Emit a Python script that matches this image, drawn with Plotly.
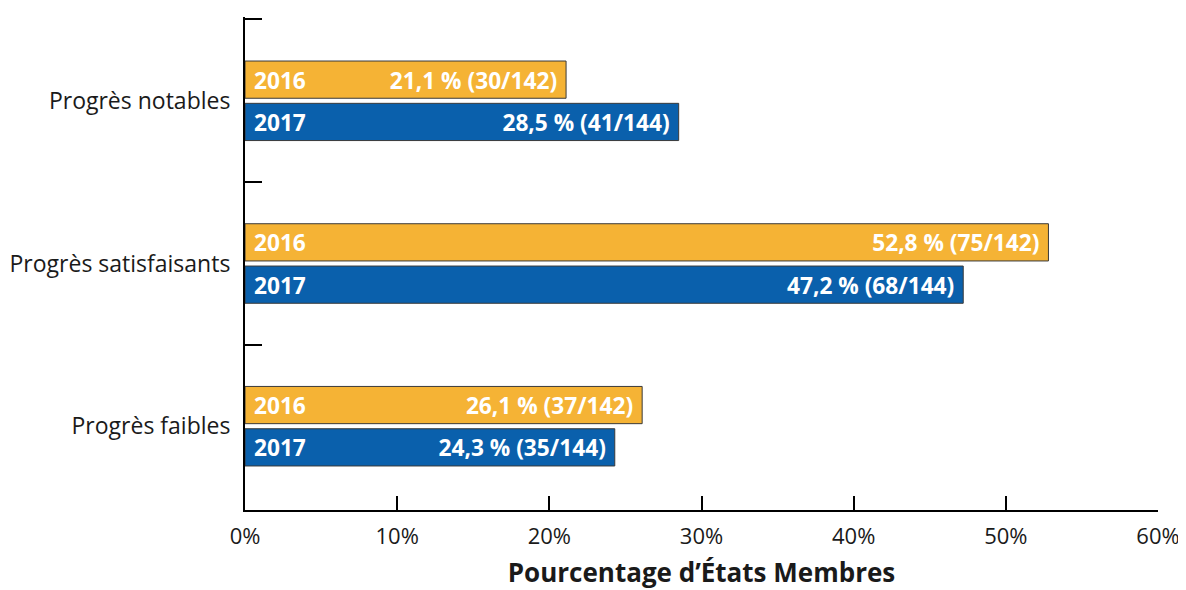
import plotly.graph_objects as go

categories = ["Progrès notables", "Progrès satisfaisants", "Progrès faibles"]
years = ["2016", "2017"]
values_2016 = [21.1, 52.8, 26.1]
values_2017 = [28.5, 47.2, 24.3]
labels_2016 = ["21,1 % (30/142)", "52,8 % (75/142)", "26,1 % (37/142)"]
labels_2017 = ["28,5 % (41/144)", "47,2 % (68/144)", "24,3 % (35/144)"]
x_ticks = [0, 10, 20, 30, 40, 50, 60]
x_tick_text = ["0%", "10%", "20%", "30%", "40%", "50%", "60%"]

colors = {"2016": "#F5B335", "2017": "#0A60AC"}
FONT = "Open Sans"
NBSP = "\u00a0"

fig = go.Figure()
series = [("2016", values_2016, labels_2016), ("2017", values_2017, labels_2017)]
for yr, vals, labs in series:
    fig.add_trace(go.Bar(
        y=categories, x=vals, orientation="h", name=yr,
        offsetgroup=yr,
        marker=dict(color=colors[yr], line=dict(color="#3a3a3a", width=1)),
        text=[l + NBSP for l in labs], textposition="inside", insidetextanchor="end",
        textangle=0,
        insidetextfont=dict(family=FONT, size=24, color="white", weight="bold"),
        hoverinfo="skip",
    ))
    fig.add_trace(go.Bar(
        y=categories, x=vals, orientation="h", name=yr + " label",
        offsetgroup=yr,
        marker=dict(color="rgba(0,0,0,0)", line=dict(width=0)),
        text=[NBSP + yr] * len(vals), textposition="inside", insidetextanchor="start",
        textangle=0,
        insidetextfont=dict(family=FONT, size=24, color="white", weight="bold"),
        hoverinfo="skip", showlegend=False,
    ))

fig.update_layout(
    width=1178, height=582,
    margin=dict(l=237, r=28, t=9, b=80, autoexpand=False),
    paper_bgcolor="white", plot_bgcolor="white",
    barmode="group", bargap=0.48, bargroupgap=0.12,
    showlegend=False,
    font=dict(family=FONT, color="#1a1a1a"),
    xaxis=dict(
        range=[0, 60], tickvals=x_ticks, ticktext=x_tick_text,
        showgrid=False, zeroline=False,
        showline=True, linecolor="black", linewidth=2,
        ticks="inside", ticklen=14, tickwidth=2, tickcolor="black",
        tickfont=dict(family=FONT, size=22, color="#1a1a1a"),
        ticklabelstandoff=6,
        title=dict(text="<b>Pourcentage d’États Membres</b>",
                   font=dict(family=FONT, size=26, color="#1a1a1a"), standoff=22),
        fixedrange=True,
    ),
    yaxis=dict(
        range=[2.515, -0.515], categoryorder="array", categoryarray=categories,
        showgrid=False, zeroline=False,
        showline=True, linecolor="black", linewidth=2,
        ticks="inside", tickson="boundaries", ticklen=17, tickwidth=2, tickcolor="black",
        tickfont=dict(family=FONT, size=23, color="#1a1a1a"),
        ticklabelstandoff=8,
        fixedrange=True,
    ),
)

fig.write_html("out.html")
